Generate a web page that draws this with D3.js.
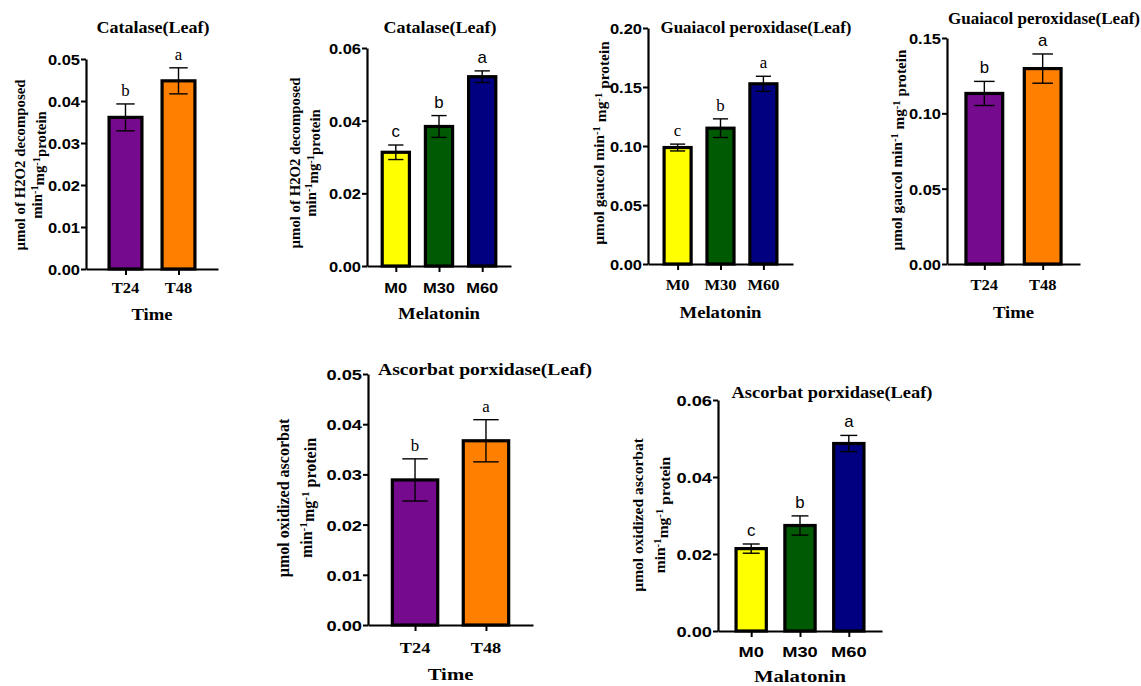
<!DOCTYPE html>
<html>
<head>
<meta charset="utf-8">
<script src="https://cdn.jsdelivr.net/npm/d3@7"></script>
<style>
  html, body { margin: 0; padding: 0; background: #fff; }
  svg { display: block; }
</style>
</head>
<body>
<div id="vis-display"></div>
<script>
// Six enzyme-activity bar panels (leaf), mean ± error with letter groups.

const TIME_GROUPS = ["T24", "T48"];
const MEL_GROUPS  = ["M0", "M30", "M60"];

const TIME_COLORS = ["#760a8e", "#ff8000"];
const MEL_COLORS  = ["#ffff00", "#005a04", "#000080"];

// Catalase, by time
const CAT_TIME_MEAN    = [0.0361, 0.0448];
const CAT_TIME_ERR     = [0.0032, 0.0031];
const CAT_TIME_LETTERS = ["b", "a"];
const CAT_TIME_TICKS   = [0, 0.01, 0.02, 0.03, 0.04, 0.05];

// Catalase, by melatonin
const CAT_MEL_MEAN    = [0.0313, 0.0384, 0.0521];
const CAT_MEL_ERR     = [0.0020, 0.0030, 0.0016];
const CAT_MEL_LETTERS = ["c", "b", "a"];
const CAT_MEL_TICKS   = [0, 0.02, 0.04, 0.06];

// Guaiacol peroxidase, by melatonin
const GPX_MEL_MEAN    = [0.0987, 0.1151, 0.1527];
const GPX_MEL_ERR     = [0.0029, 0.0079, 0.0064];
const GPX_MEL_LETTERS = ["c", "b", "a"];
const GPX_MEL_TICKS   = [0, 0.05, 0.10, 0.15, 0.20];

// Guaiacol peroxidase, by time
const GPX_TIME_MEAN    = [0.1132, 0.1297];
const GPX_TIME_ERR     = [0.0080, 0.0097];
const GPX_TIME_LETTERS = ["b", "a"];
const GPX_TIME_TICKS   = [0, 0.05, 0.10, 0.15];

// Ascorbate peroxidase, by time
const APX_TIME_MEAN    = [0.0289, 0.0367];
const APX_TIME_ERR     = [0.0042, 0.0042];
const APX_TIME_LETTERS = ["b", "a"];
const APX_TIME_TICKS   = [0, 0.01, 0.02, 0.03, 0.04, 0.05];

// Ascorbate peroxidase, by melatonin
const APX_MEL_MEAN    = [0.0214, 0.0274, 0.0487];
const APX_MEL_ERR     = [0.0012, 0.0025, 0.0021];
const APX_MEL_LETTERS = ["c", "b", "a"];
const APX_MEL_TICKS   = [0, 0.02, 0.04, 0.06];

const SERIF = "'Liberation Serif', 'Times New Roman', serif";
const SANS  = "'Liberation Sans', Arial, sans-serif";

const H2O2_LABEL = [
  [["µmol of H2O2 decomposed"]],
  [["min"], ["-1", true], ["mg"], ["-1", true], ["protein"]],
];
const GPX_LABEL = [
  [["µmol gaucol min"], ["-1", true], [" mg"], ["-1", true], [" protein"]],
];
const APX_LABEL = [
  [["µmol oxidized ascorbat"]],
  [["min"], ["-1", true], ["mg"], ["-1", true], [" protein"]],
];

// ── Panel layouts ───────────────────────────────────────────────────────────

const PANELS = [
  { groups: TIME_GROUPS, colors: TIME_COLORS, mean: CAT_TIME_MEAN, err: CAT_TIME_ERR,
    letters: CAT_TIME_LETTERS, ticks: CAT_TIME_TICKS,
    x0: 86, x1: 218, y0: 269, yTop: 59, pad: 0.745, barFrac: 0.62, sx: 1.1,
    title: "Catalase(Leaf)", titleX: 153, titleY: 33, titleW: 113, titleSize: 16,
    xTitle: "Time", xTitleY: 320, xTickY: 293, xTickFont: SERIF, letterFont: SERIF,
    yLabel: H2O2_LABEL, yLabelX: [20, 37], yLabelY: 165, yLabelSize: 14.8 },
  { groups: MEL_GROUPS, colors: MEL_COLORS, mean: CAT_MEL_MEAN, err: CAT_MEL_ERR,
    letters: CAT_MEL_LETTERS, ticks: CAT_MEL_TICKS,
    x0: 367, x1: 511, y0: 266, yTop: 48, pad: 0.667, barFrac: 0.63, sx: 1.1,
    title: "Catalase(Leaf)", titleX: 440, titleY: 33, titleW: 113, titleSize: 16,
    xTitle: "Melatonin", xTitleY: 319, xTickY: 293, xTickFont: SANS, letterFont: SANS,
    yLabel: H2O2_LABEL, yLabelX: [295, 311], yLabelY: 163, yLabelSize: 14.8 },
  { groups: MEL_GROUPS, colors: MEL_COLORS, mean: GPX_MEL_MEAN, err: GPX_MEL_ERR,
    letters: GPX_MEL_LETTERS, ticks: GPX_MEL_TICKS,
    x0: 648, x1: 793, y0: 264, yTop: 28, pad: 0.69, barFrac: 0.63, sx: 1.1,
    title: "Guaiacol peroxidase(Leaf)", titleX: 756, titleY: 33, titleW: 191, titleSize: 16,
    xTitle: "Melatonin", xTitleY: 318, xTickY: 290, xTickFont: SERIF, letterFont: SERIF,
    yLabel: GPX_LABEL, yLabelX: [599], yLabelY: 143, yLabelSize: 15.4 },
  { groups: TIME_GROUPS, colors: TIME_COLORS, mean: GPX_TIME_MEAN, err: GPX_TIME_ERR,
    letters: GPX_TIME_LETTERS, ticks: GPX_TIME_TICKS,
    x0: 947, x1: 1080, y0: 264, yTop: 38, pad: 0.64, barFrac: 0.63, sx: 1.1,
    title: "Guaiacol peroxidase(Leaf)", titleX: 1044, titleY: 24, titleW: 192, titleSize: 16,
    xTitle: "Time", xTitleY: 318, xTickY: 290, xTickFont: SERIF, letterFont: SANS,
    yLabel: GPX_LABEL, yLabelX: [897], yLabelY: 150, yLabelSize: 15.2 },
  { groups: TIME_GROUPS, colors: TIME_COLORS, mean: APX_TIME_MEAN, err: APX_TIME_ERR,
    letters: APX_TIME_LETTERS, ticks: APX_TIME_TICKS,
    x0: 368, x1: 533, y0: 625, yTop: 374, pad: 0.663, barFrac: 0.64, sx: 1.22,
    title: "Ascorbat porxidase(Leaf)", titleX: 485, titleY: 375, titleW: 214, titleSize: 17,
    xTitle: "Time", xTitleY: 680, xTickY: 653, xTickFont: SERIF, letterFont: SERIF,
    yLabel: APX_LABEL, yLabelX: [283, 306], yLabelY: 498, yLabelSize: 16 },
  { groups: MEL_GROUPS, colors: MEL_COLORS, mean: APX_MEL_MEAN, err: APX_MEL_ERR,
    letters: APX_MEL_LETTERS, ticks: APX_MEL_TICKS,
    x0: 718, x1: 882, y0: 631, yTop: 400, pad: 0.68, barFrac: 0.62, sx: 1.22,
    title: "Ascorbat porxidase(Leaf)", titleX: 832, titleY: 398, titleW: 201, titleSize: 16,
    xTitle: "Malatonin", xTitleY: 682, xTickY: 657, xTickFont: SANS, letterFont: SANS,
    yLabel: APX_LABEL, yLabelX: [638, 660], yLabelY: 515, yLabelSize: 15.5 },
];

const svg = d3.select("#vis-display").append("svg")
  .attr("width", 1141)
  .attr("height", 686);

PANELS.forEach(p => drawPanel(p));

// ── Draw one panel ──────────────────────────────────────────────────────────

function drawPanel(p) {
  const g = svg.append("g");
  const yMax = p.ticks[p.ticks.length - 1];

  const y = d3.scaleLinear().domain([0, yMax]).range([p.y0, p.yTop]);
  const x = d3.scalePoint().domain(p.groups).range([p.x0, p.x1]).padding(p.pad);
  const bw = x.step() * p.barFrac;
  const capW = bw * 0.28;

  // Bars
  g.append("g")
    .selectAll("rect")
    .data(p.groups)
    .join("rect")
      .attr("x", d => x(d) - bw / 2)
      .attr("y", (d, i) => y(p.mean[i]))
      .attr("width", bw)
      .attr("height", (d, i) => p.y0 - y(p.mean[i]))
      .attr("fill", (d, i) => p.colors[i])
      .attr("stroke", "#000")
      .attr("stroke-width", 3.2);

  // Error bars
  p.groups.forEach((d, i) => {
    const cx = x(d);
    const lo = y(p.mean[i] - p.err[i]);
    const hi = y(p.mean[i] + p.err[i]);
    g.append("line")
      .attr("x1", cx).attr("x2", cx).attr("y1", lo).attr("y2", hi)
      .attr("stroke", "#000").attr("stroke-width", 1.4);
    for (const yy of [lo, hi]) {
      g.append("line")
        .attr("x1", cx - capW).attr("x2", cx + capW)
        .attr("y1", yy).attr("y2", yy)
        .attr("stroke", "#000").attr("stroke-width", 1.4);
    }
    sText(g, cx, hi - 8, p.letters[i], {
      font: p.letterFont, size: 16, weight: "normal", sx: 1.05,
    });
  });

  // Y axis
  const yAxis = g.append("g")
    .attr("transform", `translate(${p.x0},0)`)
    .call(d3.axisLeft(y).tickValues(p.ticks).tickSize(5).tickSizeOuter(0)
      .tickFormat(d3.format(".2f")));
  yAxis.select(".domain").attr("stroke-width", 2.2);
  yAxis.selectAll(".tick line").attr("stroke-width", 2);
  yAxis.selectAll("text")
    .attr("x", -6 / p.sx)
    .attr("dy", "0.36em")
    .attr("transform", `scale(${p.sx},1)`)
    .style("font-family", SANS)
    .style("font-weight", "bold")
    .style("font-size", "15px")
    .style("fill", "#000");

  // X axis
  const xAxis = g.append("g")
    .attr("transform", `translate(0,${p.y0})`)
    .call(d3.axisBottom(x).tickSize(6).tickSizeOuter(0));
  xAxis.select(".domain").attr("stroke-width", 2.2);
  xAxis.selectAll(".tick line").attr("stroke-width", 2);
  xAxis.selectAll("text").remove();

  p.groups.forEach(d => {
    sText(g, x(d), p.xTickY, d, {
      font: p.xTickFont, size: 15, weight: "bold", sx: p.sx,
    });
  });

  // Titles
  sText(g, p.titleX, p.titleY, p.title, {
    font: SERIF, size: p.titleSize, weight: "bold", width: p.titleW,
  });
  sText(g, (p.x0 + p.x1) / 2, p.xTitleY, p.xTitle, {
    font: SERIF, size: 17, weight: "bold", sx: p.sx,
  });

  // Rotated y label (one or two lines, with superscripts)
  p.yLabel.forEach((parts, li) => {
    const t = g.append("text")
      .attr("transform", `translate(${p.yLabelX[li]},${p.yLabelY}) rotate(-90)`)
      .attr("text-anchor", "middle")
      .attr("dy", "0.35em")
      .style("font-family", SERIF)
      .style("font-weight", "bold")
      .style("font-size", p.yLabelSize + "px")
      .style("fill", "#000");
    let raised = false;
    parts.forEach(([s, sup]) => {
      const ts = t.append("tspan").text(s);
      if (sup && !raised) { ts.attr("dy", "-0.45em").style("font-size", "0.7em"); raised = true; }
      else if (!sup && raised) { ts.attr("dy", "0.45em"); raised = false; }
      else if (sup) ts.style("font-size", "0.7em");
    });
  });
}

function sText(g, x, y, str, o) {
  const t = g.append("text")
    .attr("text-anchor", "middle")
    .attr("transform", `translate(${x},${y})` + (o.sx ? ` scale(${o.sx},1)` : ""))
    .style("font-family", o.font)
    .style("font-weight", o.weight)
    .style("font-size", o.size + "px")
    .style("fill", "#000")
    .text(str);
  if (o.width) t.attr("textLength", o.width).attr("lengthAdjust", "spacingAndGlyphs");
  return t;
}
</script>
</body>
</html>
